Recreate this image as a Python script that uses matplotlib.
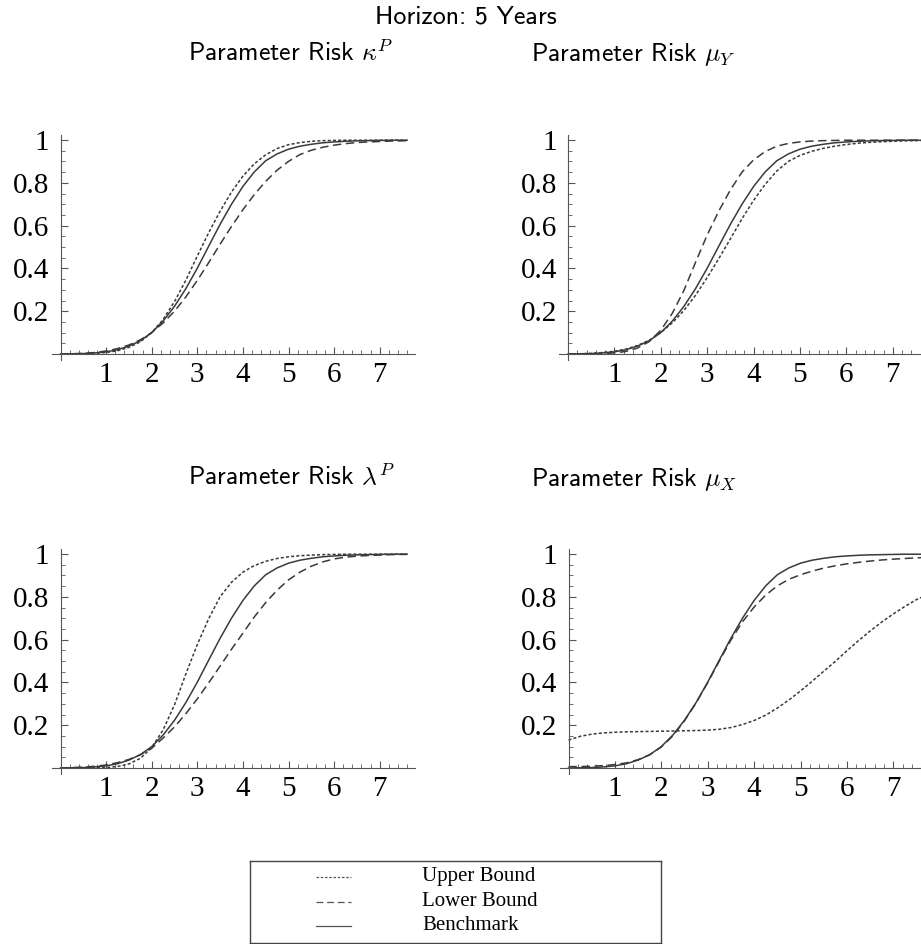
import numpy as np
import matplotlib.pyplot as plt
from matplotlib.ticker import FixedLocator, MultipleLocator

plt.rcParams['font.family'] = ['Liberation Serif', 'DejaVu Serif']
plt.rcParams['mathtext.fontset'] = 'cm'

# sampling grid (years) shared by every curve
x_grid = [0, 0.25, 0.5, 0.75, 1, 1.25, 1.5, 1.75, 2, 2.25, 2.5, 2.75, 3, 3.25, 3.5, 3.75,
          4, 4.25, 4.5, 4.75, 5, 5.25, 5.5, 5.75, 6, 6.25, 6.5, 6.75, 7, 7.25, 7.5, 7.6]

benchmark = [0.000, 0.001, 0.002, 0.005, 0.010, 0.020, 0.037, 0.062, 0.100, 0.154, 0.223, 0.306,
             0.401, 0.504, 0.606, 0.700, 0.783, 0.851, 0.903, 0.935, 0.957, 0.971, 0.980, 0.987,
             0.991, 0.994, 0.996, 0.997, 0.998, 0.999, 0.999, 0.999]

kappa_upper = [0.000, 0.000, 0.001, 0.003, 0.007, 0.015, 0.031, 0.057, 0.100, 0.161, 0.245, 0.345,
               0.458, 0.567, 0.667, 0.757, 0.831, 0.889, 0.931, 0.960, 0.978, 0.988, 0.994, 0.997,
               0.998, 0.999, 0.999, 0.999, 0.999, 0.999, 0.999, 0.999]
kappa_lower = [0.000, 0.001, 0.003, 0.007, 0.014, 0.025, 0.042, 0.066, 0.100, 0.145, 0.200, 0.267,
               0.344, 0.427, 0.513, 0.596, 0.674, 0.745, 0.807, 0.859, 0.900, 0.932, 0.952, 0.966,
               0.976, 0.983, 0.988, 0.991, 0.993, 0.995, 0.996, 0.997]

muY_upper = [0.000, 0.001, 0.003, 0.007, 0.013, 0.023, 0.040, 0.064, 0.100, 0.146, 0.204, 0.275,
             0.357, 0.446, 0.538, 0.632, 0.718, 0.793, 0.855, 0.900, 0.928, 0.947, 0.961, 0.971,
             0.979, 0.985, 0.989, 0.992, 0.994, 0.996, 0.997, 0.997]
muY_lower = [0.000, 0.000, 0.000, 0.002, 0.005, 0.012, 0.028, 0.058, 0.111, 0.191, 0.298, 0.429,
             0.556, 0.668, 0.767, 0.850, 0.907, 0.946, 0.971, 0.984, 0.991, 0.995, 0.997, 0.998,
             0.999, 0.999, 0.999, 0.999, 0.999, 0.999, 0.999, 0.999]

lambda_upper = [0.000, 0.000, 0.000, 0.001, 0.002, 0.007, 0.019, 0.045, 0.095, 0.178, 0.295, 0.440,
                0.577, 0.698, 0.800, 0.868, 0.915, 0.946, 0.966, 0.979, 0.987, 0.992, 0.995, 0.997,
                0.998, 0.999, 0.999, 0.999, 0.999, 0.999, 0.999, 0.999]
lambda_lower = [0.000, 0.002, 0.004, 0.008, 0.014, 0.025, 0.040, 0.062, 0.092, 0.140, 0.192, 0.254,
                0.323, 0.398, 0.476, 0.555, 0.630, 0.706, 0.773, 0.831, 0.879, 0.915, 0.943, 0.963,
                0.977, 0.985, 0.990, 0.993, 0.995, 0.997, 0.998, 0.998]

muX_upper = [0.130, 0.148, 0.158, 0.164, 0.167, 0.169, 0.170, 0.171, 0.172, 0.173, 0.174, 0.175,
             0.177, 0.181, 0.189, 0.203, 0.222, 0.247, 0.280, 0.318, 0.360, 0.405, 0.452, 0.498,
             0.548, 0.595, 0.640, 0.682, 0.720, 0.755, 0.787, 0.797]
muX_lower = [0.006, 0.007, 0.008, 0.011, 0.016, 0.024, 0.039, 0.062, 0.098, 0.150, 0.221, 0.304,
             0.399, 0.500, 0.598, 0.683, 0.752, 0.808, 0.851, 0.882, 0.903, 0.920, 0.934, 0.945,
             0.954, 0.961, 0.967, 0.972, 0.976, 0.979, 0.982, 0.983]

titles = [r'Parameter Risk $\kappa^P$', r'Parameter Risk $\mu_Y$',
          r'Parameter Risk $\lambda^P$', r'Parameter Risk $\mu_X$']
panels = [(kappa_upper, kappa_lower), (muY_upper, muY_lower),
          (lambda_upper, lambda_lower), (muX_upper, muX_lower)]

y_ticks = [0.2, 0.4, 0.6, 0.8, 1.0]
y_ticklabels = ['0.2', '0.4', '0.6', '0.8', '1']
x_ticks = [1, 2, 3, 4, 5, 6, 7]

legend_labels = ['Upper Bound', 'Lower Bound', 'Benchmark']

LINE = '#3a3a3a'
AXC = '#555555'
styles = [dict(dashes=(2, 1.4)), dict(dashes=(5.5, 3)), dict(linestyle='-')]

W, H = 921, 944
fig = plt.figure(figsize=(W / 100, H / 100), dpi=100)

# pixel geometry of each panel: (x of origin, px per unit x, y of origin, px per unit y)
geom = [(60.5, 45.6, 354, 214), (568, 46.4, 354, 214),
        (60.5, 45.6, 768, 214), (568.5, 46.4, 768, 214)]
xmin, xmax = -0.19, 7.78
ymin, ymax = -0.028, 1.023

for (x0, sx, y0, sy), (upper, lower) in zip(geom, panels):
    ax = fig.add_axes([(x0 + sx * xmin) / W, 1 - (y0 - sy * ymin) / H,
                       sx * (xmax - xmin) / W, sy * (ymax - ymin) / H])
    ax.set_xlim(xmin, xmax)
    ax.set_ylim(ymin, ymax)
    ax.patch.set_visible(False)

    for series, st in zip([upper, lower, benchmark], styles):
        ax.plot(x_grid, series, color=LINE, lw=1.1, **st)

    for side in ['top', 'right']:
        ax.spines[side].set_visible(False)
    for side in ['left', 'bottom']:
        ax.spines[side].set_position(('data', 0))
        ax.spines[side].set_color(AXC)
        ax.spines[side].set_linewidth(0.8)

    ax.xaxis.set_major_locator(FixedLocator(x_ticks))
    ax.xaxis.set_minor_locator(MultipleLocator(0.2))
    ax.yaxis.set_major_locator(FixedLocator(y_ticks))
    ax.yaxis.set_minor_locator(MultipleLocator(0.05))
    ax.set_yticklabels(y_ticklabels)
    ax.tick_params(which='both', direction='in', color=AXC)
    ax.tick_params(which='major', length=5, width=0.8, labelsize=21)
    ax.tick_params(which='minor', length=3, width=0.6)
    ax.tick_params(axis='x', which='major', pad=6)
    ax.tick_params(axis='y', which='major', pad=8)

# titles
fig.text(375 / W, 1 - 23.3 / H, 'Horizon: 5 Years', fontfamily='cmss10', fontsize=18.7,
         va='baseline')
title_pos = [(188, 60.7), (531, 60.7), (188, 485), (531, 486)]
for (tx, ty), t in zip(title_pos, titles):
    fig.text(tx / W, 1 - ty / H, t, fontfamily='cmss10', fontsize=18.5, va='baseline')

# legend box
lax = fig.add_axes([250 / W, 1 - 943 / H, 411 / W, 82 / H])
lax.set_xlim(0, 411)
lax.set_ylim(82, 0)
lax.set_xticks([])
lax.set_yticks([])
for sp in lax.spines.values():
    sp.set_color('#444444')
    sp.set_linewidth(1.0)
for row, (lab, st) in enumerate(zip(legend_labels, styles)):
    yy = 16 + row * 24.5
    lax.plot([66, 101], [yy, yy], color='#555555', lw=0.9, **st)
    lax.text(172, yy, lab, fontsize=15, va='center', ha='left')

fig.savefig('out.png', dpi=100)
